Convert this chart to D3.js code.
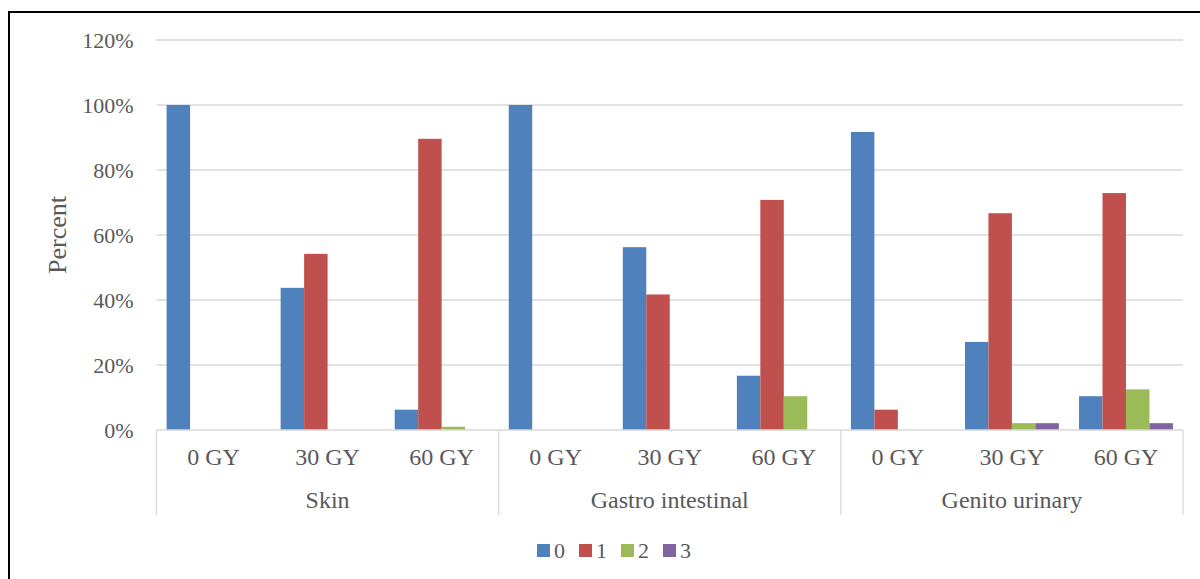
<!DOCTYPE html>
<html><head><meta charset="utf-8">
<script src="https://d3js.org/d3.v7.min.js"></script>
<style>body{margin:0;background:#fff}svg{display:block}svg text{font-family:'Liberation Serif','Times New Roman','DejaVu Serif',serif}</style>
</head><body>
<script>
const groups = ["Skin", "Gastro intestinal", "Genito urinary"];
const doses = ["0 GY", "30 GY", "60 GY"];
const seriesNames = ["0", "1", "2", "3"];
const colors = ["#4F81BD", "#C0504D", "#9BBB59", "#8064A2"];
// values per series over the 9 subcategories (Skin 0/30/60, GI 0/30/60, GU 0/30/60)
const grade0 = [100, 43.75, 6.25, 100, 56.25, 16.7, 91.7, 27.1, 10.4];
const grade1 = [0, 54.2, 89.6, 0, 41.7, 70.8, 6.25, 66.7, 72.9];
const grade2 = [0, 0, 1.0, 0, 0, 10.4, 0, 2.1, 12.5];
const grade3 = [0, 0, 0, 0, 0, 0, 0, 2.1, 2.1];
const yTicks = [0, 20, 40, 60, 80, 100, 120];

const series = [grade0, grade1, grade2, grade3];
const W = 1200, H = 579;
const svg = d3.select("body").append("svg").attr("width", W).attr("height", H);
const txt = "#595959";

svg.append("path").attr("d", "M9,579 V12 H1200").attr("fill", "none").attr("stroke", "#000").attr("stroke-width", 2);

const L = 156.5, R = 1183, T = 40, B = 430;
const y = d3.scaleLinear().domain([0, 120]).range([B, T]);
const cats = [];
groups.forEach(g => doses.forEach(d => cats.push(g + "|" + d)));
const x0 = d3.scaleBand().domain(cats).range([L, R]).padding(0);
const x1 = d3.scaleBand().domain(seriesNames).range([0, x0.bandwidth()]).paddingInner(0).paddingOuter(0.43);

// grid
svg.append("g").selectAll("line").data(yTicks.filter(v => v > 0)).join("line")
  .attr("x1", L).attr("x2", R).attr("y1", d => y(d)).attr("y2", d => y(d))
  .attr("stroke", "#D9D9D9").attr("stroke-width", 1.3);

// y axis labels
const yAxis = d3.axisLeft(y).tickValues(yTicks).tickFormat(d => d + "%").tickSize(0).tickPadding(23);
const ya = svg.append("g").attr("transform", `translate(${L},0)`).call(yAxis);
ya.select(".domain").remove();
ya.attr("font-family", null).attr("font-size", null);
ya.selectAll("text").attr("font-size", 22).attr("fill", txt);

// bars
series.forEach((vals, si) => {
  svg.append("g").selectAll("rect").data(vals).join("rect")
    .attr("x", (d, i) => x0(cats[i]) + x1(seriesNames[si]))
    .attr("width", x1.bandwidth())
    .attr("y", d => y(d))
    .attr("height", d => B - y(d))
    .attr("fill", colors[si]);
});

// category axis
const ax = svg.append("g");
ax.append("line").attr("x1", L).attr("x2", R).attr("y1", B).attr("y2", B).attr("stroke", "#D9D9D9").attr("stroke-width", 1.3);
const bounds = [0, 3, 6, 9].map(i => i < 9 ? x0(cats[i]) : R);
ax.selectAll("line.v").data(bounds).join("line").attr("class", "v")
  .attr("x1", d => d).attr("x2", d => d).attr("y1", B).attr("y2", 515)
  .attr("stroke", "#D9D9D9").attr("stroke-width", 1.3);
ax.selectAll("text.sub").data(cats).join("text").attr("class", "sub")
  .attr("x", d => x0(d) + x0.bandwidth() / 2).attr("y", 465)
  .attr("text-anchor", "middle").attr("font-size", 24).attr("fill", txt)
  .text(d => d.split("|")[1]);
ax.selectAll("text.grp").data(groups).join("text").attr("class", "grp")
  .attr("x", (d, i) => (bounds[i] + bounds[i + 1]) / 2).attr("y", 508)
  .attr("text-anchor", "middle").attr("font-size", 24).attr("fill", txt)
  .text(d => d);

// y title
svg.append("text").attr("transform", "translate(66,235) rotate(-90)")
  .attr("text-anchor", "middle").attr("font-size", 26).attr("fill", txt).text("Percent");

// legend
const lg = svg.append("g").attr("transform", "translate(537,544)");
seriesNames.forEach((s, i) => {
  const g = lg.append("g").attr("transform", `translate(${i * 42},0)`);
  g.append("rect").attr("width", 13).attr("height", 13).attr("fill", colors[i]);
  g.append("text").attr("x", 17).attr("y", 13.5).attr("font-size", 22).attr("fill", txt).text(s);
});
</script>
</body></html>
